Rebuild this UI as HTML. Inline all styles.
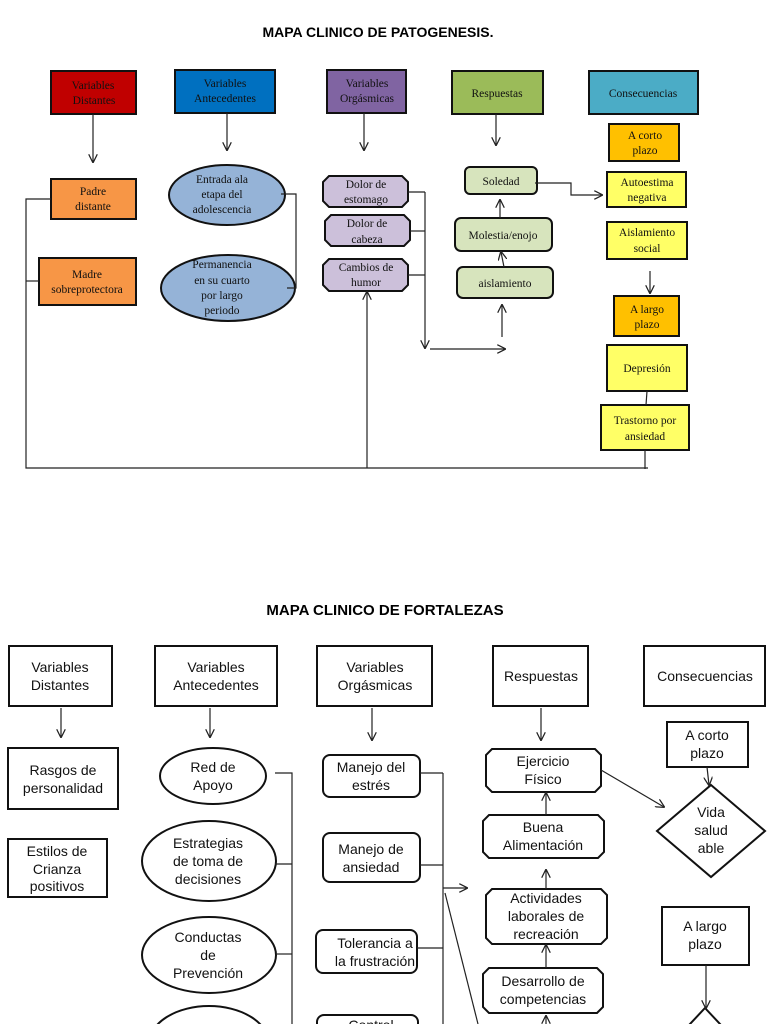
<!DOCTYPE html>
<html><head><meta charset="utf-8"><style>
html,body{margin:0;padding:0;background:#fff;width:768px;height:1024px;overflow:hidden}
svg{display:block}
.s{font-family:"Liberation Serif",serif;font-size:11.5px;fill:#111;text-anchor:middle}
.a{font-family:"Liberation Sans",sans-serif;font-size:14px;fill:#111;text-anchor:middle}
.b{stroke:#111;stroke-width:2}
.l{stroke:#222;stroke-width:1.2;fill:none}
</style></head><body>
<svg width="768" height="1024" viewBox="0 0 768 1024" xmlns="http://www.w3.org/2000/svg">
<defs><marker id="m" viewBox="0 0 10 10" refX="9" refY="5" markerWidth="9" markerHeight="9" orient="auto" markerUnits="userSpaceOnUse"><path d="M0,0L10,5L0,10" fill="none" stroke="#222" stroke-width="1.4"/></marker></defs>
<text x="378" y="37" font-family="Liberation Sans,sans-serif" font-weight="bold" font-size="14" text-anchor="middle">MAPA CLINICO DE PATOGENESIS.</text>
<rect x="51" y="71" width="85" height="43" fill="#c00000" class="b"/><text class="s" x="93" y="89">Variables</text><text class="s" x="94" y="104">Distantes</text>
<rect x="175" y="70" width="100" height="43" fill="#0070c0" class="b"/><text class="s" x="225" y="87">Variables</text><text class="s" x="225" y="102">Antecedentes</text>
<rect x="327" y="70" width="79" height="43" fill="#8064a2" class="b"/><text class="s" x="367" y="87">Variables</text><text class="s" x="367" y="102">Orgásmicas</text>
<rect x="452" y="71" width="91" height="43" fill="#9bbb59" class="b"/><text class="s" x="497" y="97">Respuestas</text>
<rect x="589" y="71" width="109" height="43" fill="#4bacc6" class="b"/><text class="s" x="643" y="97">Consecuencias</text>
<g class="l" marker-end="url(#m)"><line x1="93" y1="114" x2="93" y2="162"/><line x1="227" y1="113" x2="227" y2="150"/><line x1="364" y1="113" x2="364" y2="150"/><line x1="496" y1="114" x2="496" y2="145"/></g>
<rect x="51" y="179" width="85" height="40" fill="#f79646" class="b"/><text class="s" x="93" y="195">Padre</text><text class="s" x="93" y="210">distante</text>
<rect x="39" y="258" width="97" height="47" fill="#f79646" class="b"/><text class="s" x="87" y="278">Madre</text><text class="s" x="87" y="293">sobreprotectora</text>
<ellipse cx="227" cy="195" rx="58" ry="30" fill="#95b3d7" class="b"/><text class="s" x="222" y="183">Entrada ala</text><text class="s" x="222" y="198">etapa del</text><text class="s" x="222" y="213">adolescencia</text>
<ellipse cx="228" cy="288" rx="67" ry="33" fill="#95b3d7" class="b"/><text class="s" x="222" y="268">Permanencia</text><text class="s" x="222" y="284">en su cuarto</text><text class="s" x="222" y="299">por largo</text><text class="s" x="222" y="314">periodo</text>
<polyline class="l" points="281,194 296,194 296,288 287,288"/>
<g fill="#ccc0da" class="b">
<path d="M329,176H402L408,182V201L402,207H329L323,201V182Z"/>
<path d="M331,215H404L410,221V240L404,246H331L325,240V221Z"/>
<path d="M329,259H402L408,265V285L402,291H329L323,285V265Z"/></g>
<text class="s" x="366" y="188">Dolor de</text><text class="s" x="366" y="203">estomago</text>
<text class="s" x="367" y="227">Dolor de</text><text class="s" x="367" y="243">cabeza</text>
<text class="s" x="366" y="271">Cambios de</text><text class="s" x="366" y="286">humor</text>
<polyline class="l" points="408,192 425,192"/><polyline class="l" points="410,231 425,231"/><polyline class="l" points="408,275 425,275"/>
<line class="l" x1="425" y1="192" x2="425" y2="348" marker-end="url(#m)"/>
<line class="l" x1="430" y1="349" x2="505" y2="349" marker-end="url(#m)"/>
<g fill="#d7e4bd" class="b"><rect x="465" y="167" width="72" height="27" rx="5"/><rect x="455" y="218" width="97" height="33" rx="6"/><rect x="457" y="267" width="96" height="31" rx="6"/></g>
<text class="s" x="501" y="185">Soledad</text><text class="s" x="503" y="239">Molestia/enojo</text><text class="s" x="505" y="287">aislamiento</text>
<g class="l" marker-end="url(#m)"><line x1="500" y1="218" x2="500" y2="200"/><line x1="504" y1="267" x2="501" y2="252"/><line x1="502" y1="337" x2="502" y2="305"/><polyline points="535,183 571,183 571,195 602,195"/><line x1="650" y1="271" x2="650" y2="293"/></g>
<rect x="609" y="124" width="70" height="37" fill="#ffc000" class="b"/><text class="s" x="645" y="139">A corto</text><text class="s" x="645" y="154">plazo</text>
<rect x="607" y="172" width="79" height="35" fill="#ffff66" class="b"/><text class="s" x="647" y="186">Autoestima</text><text class="s" x="647" y="201">negativa</text>
<rect x="607" y="222" width="80" height="37" fill="#ffff66" class="b"/><text class="s" x="647" y="236">Aislamiento</text><text class="s" x="647" y="252">social</text>
<rect x="614" y="296" width="65" height="40" fill="#ffc000" class="b"/><text class="s" x="647" y="313">A largo</text><text class="s" x="647" y="328">plazo</text>
<rect x="607" y="345" width="80" height="46" fill="#ffff66" class="b"/><text class="s" x="647" y="372">Depresión</text>
<rect x="601" y="405" width="88" height="45" fill="#ffff66" class="b"/><text class="s" x="645" y="424">Trastorno por</text><text class="s" x="645" y="440">ansiedad</text>
<line class="l" x1="647" y1="391" x2="646" y2="405"/><line class="l" x1="645" y1="450" x2="645" y2="469"/>
<polyline class="l" points="51,199 26,199 26,468 648,468"/><line class="l" x1="26" y1="281" x2="39" y2="281"/>
<line class="l" x1="367" y1="468" x2="367" y2="292" marker-end="url(#m)"/>

<text x="385" y="615" font-family="Liberation Sans,sans-serif" font-weight="bold" font-size="15" text-anchor="middle">MAPA CLINICO DE FORTALEZAS</text>
<g fill="#fff" class="b">
<rect x="9" y="646" width="103" height="60"/><rect x="155" y="646" width="122" height="60"/><rect x="317" y="646" width="115" height="60"/><rect x="493" y="646" width="95" height="60"/><rect x="644" y="646" width="121" height="60"/>
<rect x="8" y="748" width="110" height="61"/><rect x="8" y="839" width="99" height="58"/>
<rect x="667" y="722" width="81" height="45"/><rect x="662" y="907" width="87" height="58"/>
<ellipse cx="213" cy="776" rx="53" ry="28"/><ellipse cx="209" cy="861" rx="67" ry="40"/><ellipse cx="209" cy="955" rx="67" ry="38"/><ellipse cx="209" cy="1044" rx="60" ry="38"/>
<rect x="323" y="755" width="97" height="42" rx="7"/><rect x="323" y="833" width="97" height="49" rx="7"/><rect x="316" y="930" width="101" height="43" rx="7"/><rect x="317" y="1015" width="101" height="40" rx="7"/>
<path d="M492,749H595L601,755V786L595,792H492L486,786V755Z"/>
<path d="M489,815H598L604,821V852L598,858H489L483,852V821Z"/>
<path d="M492,889H601L607,895V938L601,944H492L486,938V895Z"/>
<path d="M489,968H597L603,974V1007L597,1013H489L483,1007V974Z"/>
<path d="M711,785L765,831L711,877L657,831Z"/><path d="M705,1008L735,1040L705,1070L675,1040Z"/>
</g>
<text class="a" x="60" y="672">Variables</text><text class="a" x="60" y="690">Distantes</text>
<text class="a" x="216" y="672">Variables</text><text class="a" x="216" y="690">Antecedentes</text>
<text class="a" x="375" y="672">Variables</text><text class="a" x="375" y="690">Orgásmicas</text>
<text class="a" x="541" y="681">Respuestas</text><text class="a" x="705" y="681">Consecuencias</text>
<text class="a" x="63" y="775">Rasgos de</text><text class="a" x="63" y="793">personalidad</text>
<text class="a" x="57" y="856">Estilos de</text><text class="a" x="57" y="874">Crianza</text><text class="a" x="57" y="891">positivos</text>
<text class="a" x="707" y="740">A corto</text><text class="a" x="707" y="758">plazo</text>
<text class="a" x="705" y="931">A largo</text><text class="a" x="705" y="949">plazo</text>
<text class="a" x="711" y="817">Vida</text><text class="a" x="711" y="835">salud</text><text class="a" x="711" y="853">able</text>
<text class="a" x="213" y="772">Red de</text><text class="a" x="213" y="790">Apoyo</text>
<text class="a" x="208" y="848">Estrategias</text><text class="a" x="208" y="866">de toma de</text><text class="a" x="208" y="884">decisiones</text>
<text class="a" x="208" y="942">Conductas</text><text class="a" x="208" y="960">de</text><text class="a" x="208" y="978">Prevención</text>
<text class="a" x="371" y="772">Manejo del</text><text class="a" x="371" y="790">estrés</text>
<text class="a" x="371" y="854">Manejo de</text><text class="a" x="371" y="872">ansiedad</text>
<text class="a" x="375" y="948">Tolerancia a</text><text class="a" x="375" y="966">la frustración</text>
<text class="a" x="371" y="1030">Control</text>
<text class="a" x="543" y="766">Ejercicio</text><text class="a" x="543" y="784">Físico</text>
<text class="a" x="543" y="832">Buena</text><text class="a" x="543" y="850">Alimentación</text>
<text class="a" x="546" y="903">Actividades</text><text class="a" x="546" y="921">laborales de</text><text class="a" x="546" y="939">recreación</text>
<text class="a" x="543" y="986">Desarrollo de</text><text class="a" x="543" y="1004">competencias</text>
<g class="l" marker-end="url(#m)">
<line x1="61" y1="708" x2="61" y2="737"/><line x1="210" y1="708" x2="210" y2="737"/><line x1="372" y1="708" x2="372" y2="740"/><line x1="541" y1="708" x2="541" y2="740"/>
<line x1="707" y1="767" x2="709" y2="785"/><line x1="706" y1="965" x2="706" y2="1008"/>
<line x1="546" y1="815" x2="546" y2="793"/><line x1="546" y1="889" x2="546" y2="870"/><line x1="546" y1="968" x2="546" y2="945"/><line x1="546" y1="1024" x2="546" y2="1016"/>
<line x1="601" y1="770" x2="664" y2="807"/><line x1="443" y1="888" x2="467" y2="888"/>
</g>
<polyline class="l" points="275,773 292,773 292,1024"/><line class="l" x1="275" y1="864" x2="292" y2="864"/><line class="l" x1="276" y1="954" x2="292" y2="954"/>
<line class="l" x1="420" y1="773" x2="443" y2="773"/><line class="l" x1="420" y1="865" x2="443" y2="865"/><line class="l" x1="417" y1="948" x2="443" y2="948"/>
<line class="l" x1="443" y1="773" x2="443" y2="1024"/><line class="l" x1="445" y1="893" x2="478" y2="1024"/>
</svg>
</body></html>
